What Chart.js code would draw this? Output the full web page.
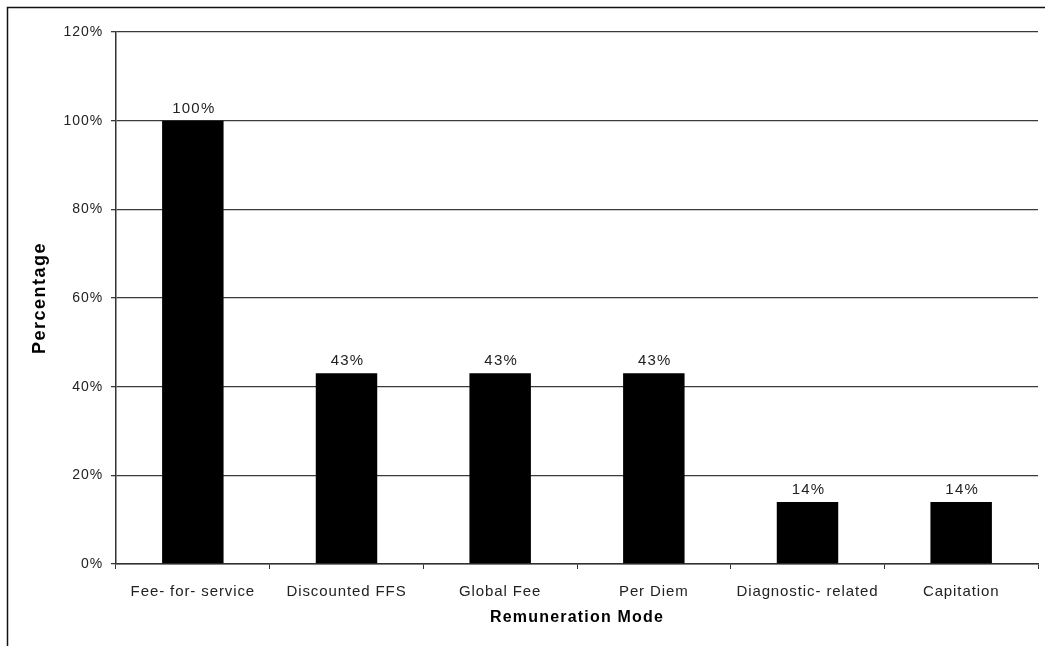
<!DOCTYPE html>
<html>
<head>
<meta charset="utf-8">
<title>Remuneration Mode</title>
<script src="https://cdn.jsdelivr.net/npm/chart.js@4/dist/chart.umd.min.js"></script>
<style>
  html, body { margin: 0; padding: 0; background: #fff; }
  #wrap { position: relative; width: 1045px; height: 646px; }
</style>
</head>
<body>
<div id="wrap"><canvas id="c" width="1045" height="646"></canvas></div>
<script>
// Share of respondents using each remuneration mode
const categories = ['Fee- for- service', 'Discounted FFS', 'Global Fee', 'Per Diem', 'Diagnostic- related', 'Capitation'];
const percentages = [100, 43, 43, 43, 14, 14];
const yTicks = [0, 20, 40, 60, 80, 100, 120];

const FONT = '"Liberation Sans", Arial, sans-serif';

// Slightly wide letter spacing for the axis text
const spacing = {
  id: 'spacing',
  beforeDraw(chart) { chart.ctx.letterSpacing = '0.9px'; }
};

// Value labels, axis titles and the outer frame
const decorations = {
  id: 'decorations',
  afterDatasetsDraw(chart) {
    const { ctx, chartArea } = chart;
    const meta = chart.getDatasetMeta(0);
    ctx.save();
    ctx.fillStyle = '#222';
    ctx.letterSpacing = '1.2px';
    ctx.font = '15px ' + FONT;
    ctx.textAlign = 'center';
    ctx.textBaseline = 'alphabetic';
    meta.data.forEach((bar, i) => {
      ctx.fillText(percentages[i] + '%', bar.x + 1, bar.y - 8);
    });

    ctx.fillStyle = '#000';
    ctx.letterSpacing = '1.2px';
    ctx.font = 'bold 16px ' + FONT;
    ctx.textBaseline = 'middle';
    ctx.fillText('Remuneration Mode', (chartArea.left + chartArea.right) / 2, 618);

    ctx.translate(40, (chartArea.top + chartArea.bottom) / 2);
    ctx.rotate(-Math.PI / 2);
    ctx.letterSpacing = '1.5px';
    ctx.font = 'bold 18px ' + FONT;
    ctx.fillText('Percentage', 0, 0);
    ctx.restore();

    ctx.save();
    ctx.strokeStyle = '#111';
    ctx.lineWidth = 1.5;
    ctx.beginPath();
    ctx.moveTo(7.5, chart.height);
    ctx.lineTo(7.5, 7.5);
    ctx.lineTo(chart.width, 7.5);
    ctx.stroke();
    ctx.restore();
  }
};

new Chart(document.getElementById('c'), {
  type: 'bar',
  data: {
    labels: categories,
    datasets: [{
      data: percentages,
      backgroundColor: '#000',
      borderWidth: 0,
      barPercentage: 0.4,
      categoryPercentage: 1.0
    }]
  },
  options: {
    responsive: false,
    animation: false,
    layout: { padding: { left: 0, top: 32, right: 7, bottom: 0 } },
    plugins: {
      legend: { display: false },
      tooltip: { enabled: false },
      title: { display: false }
    },
    scales: {
      x: {
        offset: true,
        grid: {
          offset: true,
          drawOnChartArea: false,
          tickLength: 5,
          color: '#333'
        },
        border: { display: true, color: '#333', width: 1.5 },
        ticks: {
          color: '#222',
          font: { family: FONT, size: 15 },
          padding: 14,
          maxRotation: 0,
          autoSkip: false
        },
        afterFit(scale) { scale.height = 82; }
      },
      y: {
        min: 0,
        max: 120,
        afterBuildTicks(scale) { scale.ticks = yTicks.map(v => ({ value: v })); },
        grid: {
          color: '#3a3a3a',
          lineWidth: 1.3,
          tickLength: 5,
          drawTicks: true
        },
        border: { display: true, color: '#333', width: 1.5 },
        ticks: {
          color: '#222',
          font: { family: FONT, size: 14 },
          padding: 8,
          callback: v => v + '%'
        },
        afterFit(scale) { scale.width = 116; }
      }
    }
  },
  plugins: [spacing, decorations]
});
</script>
</body>
</html>
